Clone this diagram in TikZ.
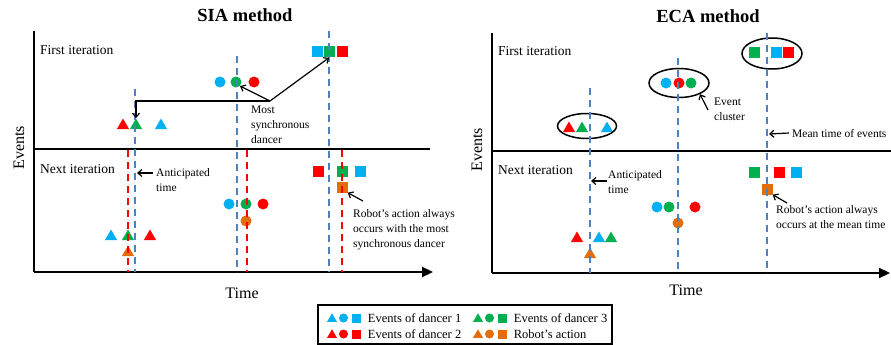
\documentclass[tikz,border=0pt]{standalone}
\usepackage{fontspec}
\setmainfont{Liberation Serif}
\usetikzlibrary{arrows.meta,positioning,shapes.geometric}
\definecolor{dblue}{HTML}{00B0F0}
\definecolor{dgreen}{HTML}{00B050}
\definecolor{dred}{HTML}{FF0000}
\definecolor{robot}{HTML}{E46C0A}
\definecolor{lineblue}{HTML}{4F81BD}
\tikzset{
  tri/.style={regular polygon,regular polygon sides=3,fill=#1,inner sep=0pt,
              minimum size=14pt,yshift=-1.5pt},
  dot/.style={circle,fill=#1,inner sep=0pt,minimum size=11pt},
  sq/.style={rectangle,fill=#1,inner sep=0pt,minimum size=11pt},
  axis/.style={line width=2.2pt,black},
  meanline/.style={dash pattern=on 7pt off 5pt,line width=1.8pt,lineblue},
  robotline/.style={dash pattern=on 7pt off 5pt,line width=1.8pt,dred},
  note/.style={font=\fontsize{11.5}{15}\selectfont,align=left,inner sep=0pt,
               anchor=north west},
  label/.style={font=\fontsize{13.5}{16}\selectfont,inner sep=0pt,anchor=base west},
  arrowthin/.style={-{Straight Barb[length=4pt,width=7pt]},line width=1.2pt},
  cluster/.style={ellipse,draw,line width=1.5pt,inner sep=0pt},
}

\begin{document}
\begin{tikzpicture}[x=1pt,y=-1pt]
  \useasboundingbox (0,0) rectangle (891,345);
  % axes of both panels
  \foreach \ox/\top/\sep/\bot/\sepend in {34/31/149/272/430,492/33/151/273/891}{%
    \draw[axis] (\ox,\top) -- (\ox,\bot);
    \draw[line width=2pt] (\ox,\sep) -- (\sepend,\sep);
  }
  \draw[axis,-{Triangle[length=11pt,width=10pt]}] (34,272) -- (433,272);
  \draw[axis,-{Triangle[length=11pt,width=10pt]}] (492,273) -- (890,273);
  % titles and axis labels
  \node[font=\bfseries\fontsize{18.5}{22}\selectfont,anchor=base] (stitle) at (245,22) {SIA method};
  \node[font=\bfseries\fontsize{18.5}{22}\selectfont,anchor=base] (etitle) at (708,23) {ECA method};
  \node[font=\fontsize{16}{19}\selectfont,rotate=90,anchor=base] (sev) at (24,148) {Events};
  \node[font=\fontsize{16}{19}\selectfont,rotate=90,anchor=base] (eev) at (482,150) {Events};
  \node[font=\fontsize{16}{19}\selectfont,anchor=base] (stime) at (242,298) {Time};
  \node[font=\fontsize{16}{19}\selectfont,anchor=base] (etime) at (686,295) {Time};
  \node[label] (sfirst) at (40,55) {First iteration};
  \node[label] (snext) at (40,173) {Next iteration};
  \node[label] (efirst) at (498,56) {First iteration};
  \node[label] (enext) at (498,174) {Next iteration};

  % SIA, first iteration
  \node[tri=dred]   (sa2) at (123,124) {};
  \node[tri=dgreen] (sa3) at (136,124) {};
  \node[tri=dblue]  (sa1) at (161,124) {};
  \node[dot=dblue]  (sb1) at (220,82) {};
  \node[dot=dgreen] (sb3) at (236,82) {};
  \node[dot=dred]   (sb2) at (254,82) {};
  \node[sq=dblue]   (sc1) at (317,52) {};
  \node[sq=dgreen]  (sc3) at (329,52) {};
  \node[sq=dred]    (sc2) at (342,52) {};
  % SIA, next iteration
  \node[tri=dblue]  (sd1) at (111,235) {};
  \node[tri=dgreen] (sd3) at (128,235) {};
  \node[tri=dred]   (sd2) at (150,235) {};
  \node[tri=robot]  (sdr) at (128,251) {};
  \node[dot=dblue]  (se1) at (229,204) {};
  \node[dot=dgreen] (se3) at (246,204) {};
  \node[dot=dred]   (se2) at (263,204) {};
  \node[dot=robot]  (ser) at (246,221) {};
  \node[sq=dred]    (sf2) at (318,171) {};
  \node[sq=dgreen]  (sf3) at (342,171) {};
  \node[sq=dblue]   (sf1) at (360,171) {};
  \node[sq=robot]   (sfr) at (342,187) {};

  % SIA dashed lines
  \foreach \x/\y in {135/89,237/56,329/31}
    \draw[meanline] (\x,\y) -- (\x,272);
  \foreach \x in {128,247,342}
    \draw[robotline] (\x,150) -- (\x,272);

  % SIA notes
  \coordinate (sj) at (270,101);
  \draw[arrowthin] (sj) -| (sa3.north);
  \draw[arrowthin] (sj) -- (sb3.south east);
  \draw[arrowthin] (sj) -- (sc3.south);
  \node[note] (snote0) at (251,106) {Most\\synchronous\\dancer};
  \node[note] (snote1) at (156,168) {Anticipated\\time};
  \coordinate (sant) at (137,173);
  \draw[arrowthin] ([shift={(-3,5)}]snote1.north west) -- (sant);
  \node[note] (snote2) at (353,209) {Robot's action always\\occurs with the most\\synchronous dancer};
  \draw[arrowthin] ([shift={(10,-8)}]snote2.north west) -- (sfr.south east);

  % ECA, first iteration
  \node[tri=dred]   (ea2) at (569,127) {};
  \node[tri=dgreen] (ea3) at (582,127) {};
  \node[tri=dblue]  (ea1) at (607,127) {};
  \node[dot=dblue]  (eb1) at (666,83) {};
  \node[dot=dred]   (eb2) at (679,83) {};
  \node[dot=dgreen] (eb3) at (691,83) {};
  \node[sq=dgreen]  (ec3) at (754,53) {};
  \node[sq=dblue]   (ec1) at (776,53) {};
  \node[sq=dred]    (ec2) at (788,53) {};
  \node[cluster,minimum width=59pt,minimum height=25pt] (ce1) at (587,126) {};
  \node[cluster,minimum width=60pt,minimum height=29pt] (ce2) at (679,83) {};
  \node[cluster,minimum width=60pt,minimum height=31pt] (ce3) at (772,53.5) {};
  % ECA, next iteration
  \node[tri=dred]   (ed2) at (577,237) {};
  \node[tri=dblue]  (ed1) at (599,237) {};
  \node[tri=dgreen] (ed3) at (611,237) {};
  \node[tri=robot]  (edr) at (590,253) {};
  \node[dot=dblue]  (ee1) at (657,207) {};
  \node[dot=dgreen] (ee3) at (669,207) {};
  \node[dot=dred]   (ee2) at (695,207) {};
  \node[dot=robot]  (eer) at (678,223) {};
  \node[sq=dgreen]  (ef3) at (754,172) {};
  \node[sq=dred]    (ef2) at (779,172) {};
  \node[sq=dblue]   (ef1) at (796,172) {};
  \node[sq=robot]   (efr) at (767,189) {};

  % ECA dashed lines
  \foreach \x/\y in {590/88,678/58,767/33}
    \draw[meanline] (\x,\y) -- (\x,273);

  % ECA notes
  \node[note] (enote0) at (714,98) {Event\\cluster};
  \draw[arrowthin] ([shift={(-6,12)}]enote0.north west) -- (ce2.-28);
  \node[note,anchor=base west] (enote3) at (792,137) {Mean time of events};
  \coordinate (emt) at (769,134);
  \draw[arrowthin] ([xshift=-3pt]enote3.west) -- (emt);
  \node[note] (enote1) at (608,170) {Anticipated\\time};
  \coordinate (eant) at (591,181);
  \draw[arrowthin] ([shift={(-1,11)}]enote1.north west) -- (eant);
  \node[note] (enote2) at (776,205) {Robot's action always\\occurs at the mean time};
  \draw[arrowthin] ([shift={(11,-2)}]enote2.north west) -- (efr.south east);

  % legend
  \node[draw,line width=1.2pt,minimum width=294pt,minimum height=39pt,inner sep=0pt]
    (legend) at (465,324.5) {};
  \foreach \c/\y/\x/\ttl in {dblue/318/332/{Events of dancer 1},
                             dred/334/332/{Events of dancer 2},
                             dgreen/318/478/{Events of dancer 3},
                             robot/334/478/{Robot's action}}{%
    \node[tri=\c,minimum size=11.5pt,yshift=0.5pt] (lt\c) at (\x,\y) {};
    \node[dot=\c,minimum size=9pt] (ld\c) at (\x+11.5,\y) {};
    \node[sq=\c,minimum size=9pt] (ls\c) at (\x+24.5,\y) {};
    \node[font=\fontsize{12.5}{15}\selectfont,right=6.5pt of ls\c,inner sep=0pt] (ll\c) {\ttl};
  }
\end{tikzpicture}
\end{document}
